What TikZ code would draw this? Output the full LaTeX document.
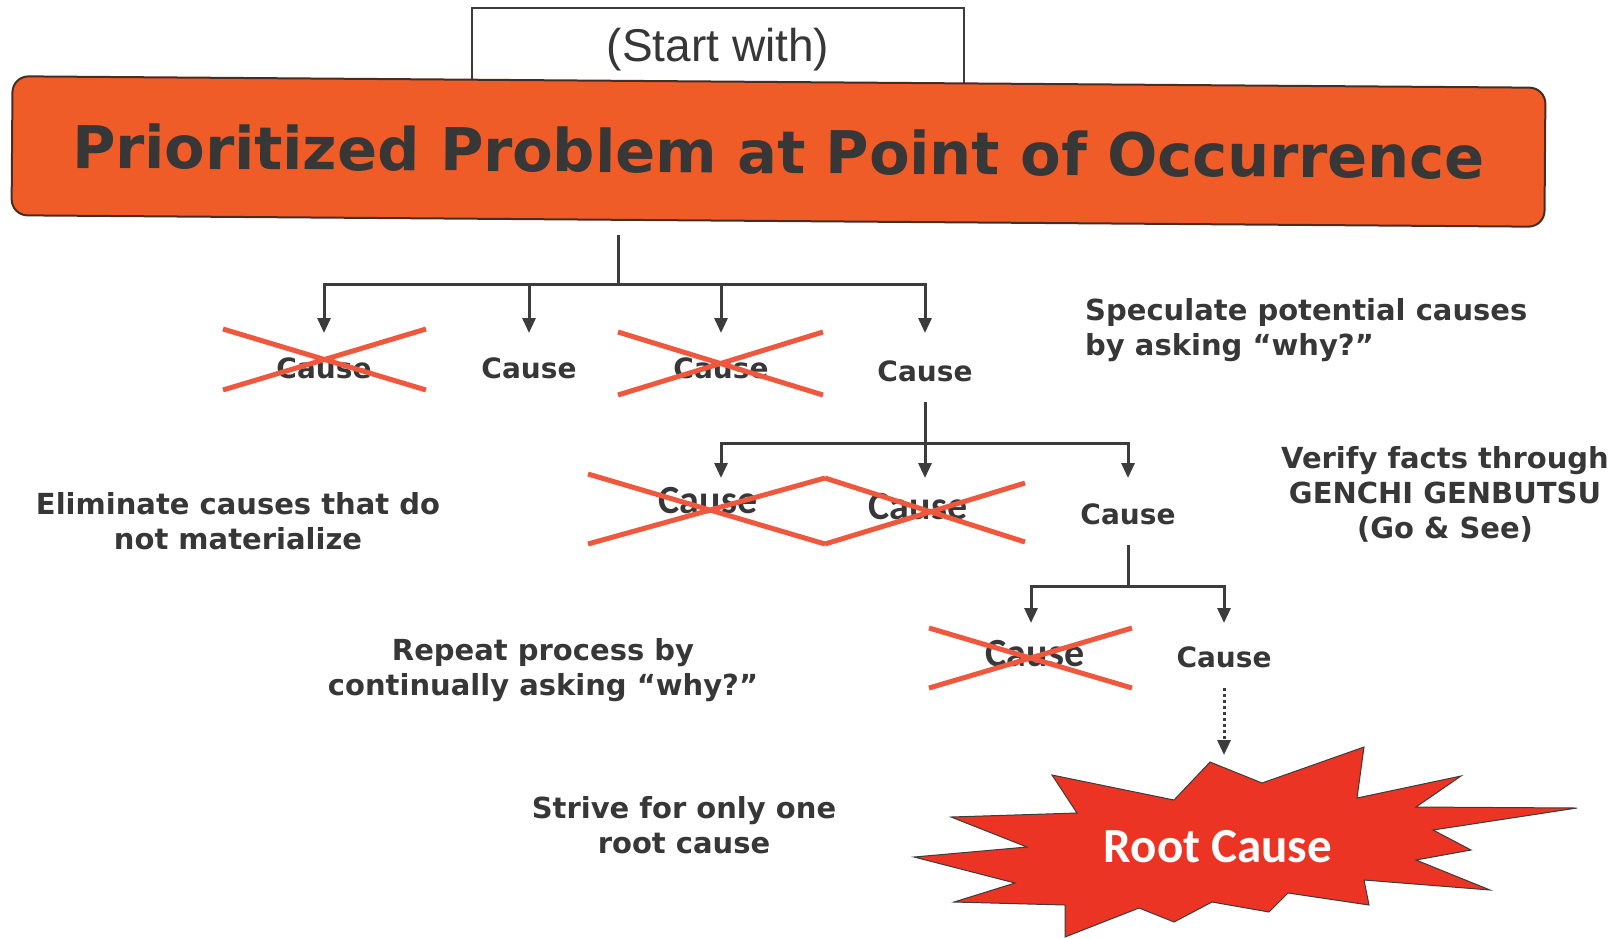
\documentclass[tikz,border=0pt]{standalone}
\usepackage{fontspec}
\setmainfont{DejaVu Sans}
\newfontfamily\calfont{Carlito}
\newfontfamily\arialfont{Liberation Sans}
\usetikzlibrary{arrows.meta}
\definecolor{txt}{RGB}{55,55,55}
\definecolor{ln}{RGB}{60,60,60}
\definecolor{bannerc}{RGB}{240,92,40}
\definecolor{burst}{RGB}{236,52,36}
\definecolor{xred}{RGB}{238,88,62}
\begin{document}
\begin{tikzpicture}[x=1pt,y=-1pt,
  conn/.style={draw=ln, line width=3pt},
  arr/.style={conn, -{Triangle[length=15pt,width=13pt]}},
  vcause/.style={font=\fontsize{28}{34}\selectfont\bfseries, text=txt, anchor=base, inner xsep=2pt, inner ysep=21pt, text height=27pt, text depth=0pt},
  ccause/.style={font=\calfont\fontsize{40}{48}\selectfont\bfseries, text=txt, anchor=base, inner sep=0pt},
  note/.style={font=\fontsize{29}{35}\selectfont\bfseries, text=txt, align=center, inner sep=0pt},
  xline/.style={draw=xred, line width=5pt},
]
\useasboundingbox (0,0) rectangle (1624,938);

% start box and banner
\node[draw=ln, line width=1.5pt, fill=white, minimum width=492pt, minimum height=84pt,
      font=\arialfont\fontsize{46}{50}\selectfont, text=txt] (start) at (718,50) {(Start with)};
\node[draw={rgb,255:red,70;green,45;blue,35}, line width=2pt, fill=bannerc, rounded corners=16pt,
      minimum width=1533pt, minimum height=139pt, rotate=-0.43,
      font=\fontsize{59}{64}\selectfont\bfseries, text=txt] (banner) at (778.5,151.5)
      {Prioritized Problem at Point of Occurrence};

% junctions and arrow tips
\coordinate (j1) at (618,284);
\coordinate (a11) at (324,333);
\coordinate (a12) at (529,333);
\coordinate (a13) at (721,333);
\coordinate (a14) at (925,333);
\coordinate (j2) at (925,443);
\coordinate (a21) at (721,478);
\coordinate (a22) at (925,478);
\coordinate (a23) at (1128,478);
\coordinate (j3) at (1128,586);
\coordinate (a31) at (1031,623);
\coordinate (a32) at (1224,623);
\coordinate (a4) at (1224,755);

% causes
\node[vcause] (c11) at (324,378) {Cause};
\node[vcause] (c12) at (529,378) {Cause};
\node[vcause] (c13) at (721,378) {Cause};
\node[vcause] (c14) at (925,381) {Cause};
\node[ccause] (c21) at (708,513) {Cause};
\node[ccause] (c22) at (918,519) {Cause};
\node[vcause] (c23) at (1128,524) {Cause};
\node[ccause] (c31) at (1035,666) {Cause};
\node[vcause] (c32) at (1224,667) {Cause};

% connectors
\draw[conn, shorten <=13pt] (banner.south -| j1) -- (j1);
\draw[arr] (j1) -| (a11);
\draw[arr] (j1) -| (a12);
\draw[arr] (j1) -| (a13);
\draw[arr] (j1) -| (a14);
\draw[conn] (c14.south) -- (j2);
\draw[arr] (j2) -| (a21);
\draw[arr] (j2) -- (a22);
\draw[arr] (j2) -| (a23);
\draw[conn] (c23.south) -- (j3);
\draw[arr] (j3) -| (a31);
\draw[arr] (j3) -| (a32);
\draw[arr, line width=3pt, dash pattern=on 3pt off 3pt] (c32.south) -- (a4);

% crosses
\draw[xline] (223,329) -- (426,390) (223,390) -- (426,329);
\draw[xline] (618,332) -- (823,395) (618,395) -- (823,332);
\draw[xline] (588,474) -- (825,544) (588,544) -- (825,478);
\draw[xline] (825,478) -- (1025,542) (825,544) -- (1025,483);
\draw[xline] (929,628) -- (1132,688) (929,688) -- (1132,628);

% starburst
\draw[fill=burst, draw=ln, line width=1pt, line join=miter]
  (1210,762) -- (1262,783) -- (1364,747) -- (1357,798) -- (1461,776) -- (1416,807)
  -- (1577,808) -- (1433,830) -- (1471,850) -- (1416,860) -- (1490,890) -- (1364,880)
  -- (1369,905) -- (1288,893) -- (1269,912) -- (1212,902) -- (1174,922) -- (1139,908)
  -- (1065,937) -- (1065,905) -- (954,902) -- (1015,883) -- (914,857) -- (1027,847)
  -- (951,817) -- (1077,813) -- (1052,775) -- (1174,800) -- cycle;
\node[font=\calfont\fontsize{49}{55}\selectfont\bfseries, text=white, anchor=base] (root) at (1218,862) {Root Cause};

% notes
\node[note, align=left, anchor=west] (n1) at (1085,330) {Speculate potential causes\\by asking “why?”};
\node[note] (n2) at (1445,494) {Verify facts through\\GENCHI GENBUTSU\\(Go \& See)};
\node[note] (n3) at (238,521) {Eliminate causes that do\\not materialize};
\node[note] (n4) at (543,670) {Repeat process by\\continually asking “why?”};
\node[note] (n5) at (684,825) {Strive for only one\\root cause};
\end{tikzpicture}
\end{document}
